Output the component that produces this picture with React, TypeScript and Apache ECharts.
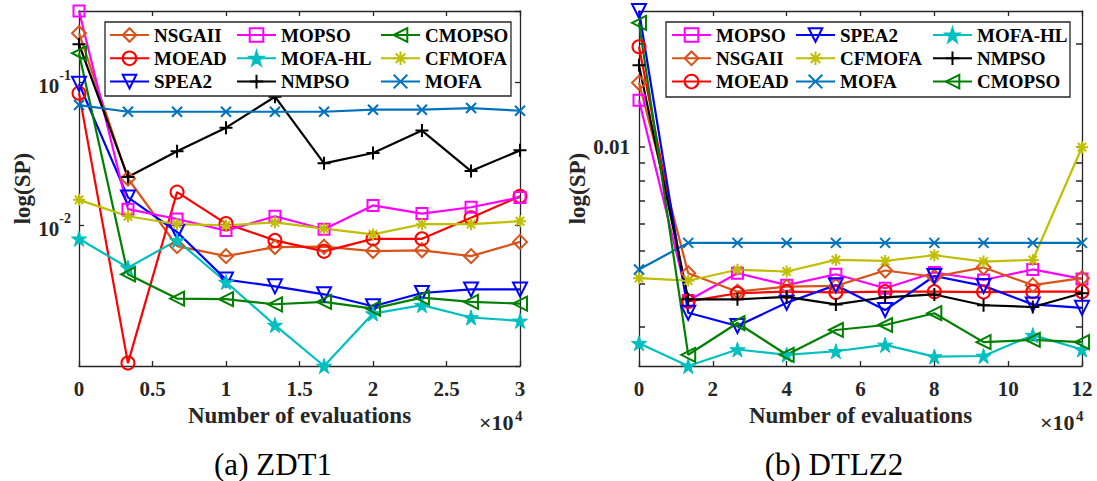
import React, { useEffect, useRef } from 'react';
import * as echarts from 'echarts';

// ---------- data ----------
const ZDT1_EVALS = [0, 0.333, 0.667, 1.0, 1.333, 1.667, 2.0, 2.333, 2.667, 3.0];
const DTLZ2_EVALS = [0, 1.333, 2.667, 4.0, 5.333, 6.667, 8.0, 9.333, 10.667, 12.0];

const ZDT1_NSGAII = [0.221, 0.0213, 0.00717, 0.0061, 0.00706, 0.0071, 0.00662, 0.0067, 0.0061, 0.00767];
const ZDT1_MOEAD = [0.0842, 0.00109, 0.0171, 0.0103, 0.00786, 0.00659, 0.00806, 0.00806, 0.0113, 0.016];
const ZDT1_SPEA2 = [0.098, 0.0157, 0.009, 0.00418, 0.00375, 0.0033, 0.00272, 0.00337, 0.00357, 0.00357];
const ZDT1_MOPSO = [0.316, 0.013, 0.0111, 0.0092, 0.0116, 0.0094, 0.0138, 0.0121, 0.0134, 0.0157];
const ZDT1_MOFAHL = [0.00807, 0.00507, 0.00786, 0.00402, 0.00201, 0.00104, 0.00242, 0.00277, 0.00227, 0.00215];
const ZDT1_NMPSO = [0.185, 0.0218, 0.033, 0.0483, 0.0795, 0.0272, 0.0321, 0.0461, 0.024, 0.0335];
const ZDT1_CMOPSO = [0.16, 0.00455, 0.00308, 0.00305, 0.00281, 0.00292, 0.00262, 0.00313, 0.00292, 0.00284];
const ZDT1_CFMOFA = [0.0151, 0.0116, 0.0102, 0.01, 0.0105, 0.0095, 0.00866, 0.0102, 0.0102, 0.0107];
const ZDT1_MOFA = [0.0695, 0.0624, 0.0624, 0.0624, 0.0624, 0.0624, 0.0645, 0.0645, 0.0662, 0.0634];

const DTLZ2_MOPSO = [0.0137, 0.00358, 0.0043, 0.00397, 0.00427, 0.00389, 0.00432, 0.00411, 0.00441, 0.00414];
const DTLZ2_NSGAII = [0.0154, 0.0043, 0.0038, 0.00393, 0.00395, 0.00438, 0.0042, 0.00447, 0.00397, 0.00416];
const DTLZ2_MOEAD = [0.0196, 0.00356, 0.00376, 0.0038, 0.00378, 0.0038, 0.0038, 0.00379, 0.0038, 0.0038];
const DTLZ2_SPEA2 = [0.0249, 0.0033, 0.00302, 0.00353, 0.00397, 0.00336, 0.00422, 0.00395, 0.00349, 0.00341];
const DTLZ2_CFMOFA = [0.00416, 0.00409, 0.0044, 0.00435, 0.0047, 0.00467, 0.00485, 0.00465, 0.0047, 0.01];
const DTLZ2_MOFA = [0.00441, 0.00527, 0.00527, 0.00527, 0.00527, 0.00527, 0.00527, 0.00527, 0.00527, 0.00527];
const DTLZ2_MOFAHL = [0.00269, 0.00231, 0.00258, 0.00249, 0.00255, 0.00266, 0.00246, 0.00247, 0.00284, 0.00258];
const DTLZ2_NMPSO = [0.0173, 0.00361, 0.00361, 0.00367, 0.00349, 0.00366, 0.00373, 0.00347, 0.00343, 0.00376];
const DTLZ2_CMOPSO = [0.023, 0.00249, 0.00308, 0.00249, 0.00294, 0.00304, 0.00329, 0.00271, 0.00275, 0.00271];

const ZDT1_X_TICKS = [0, 0.5, 1, 1.5, 2, 2.5, 3];
const DTLZ2_X_TICKS = [0, 2, 4, 6, 8, 10, 12];
const DTLZ2_Y_MINOR_TICKS = [0.003, 0.004, 0.005, 0.006, 0.007, 0.008, 0.009, 0.01, 0.02];

const ZDT1_LEGEND_COLS = [['NSGAII', 'MOEAD', 'SPEA2'], ['MOPSO', 'MOFA-HL', 'NMPSO'], ['CMOPSO', 'CFMOFA', 'MOFA']];
const DTLZ2_LEGEND_COLS = [['MOPSO', 'NSGAII', 'MOEAD'], ['SPEA2', 'CFMOFA', 'MOFA'], ['MOFA-HL', 'NMPSO', 'CMOPSO']];

const ZDT1_SERIES: [string, number[]][] = [
  ['NSGAII', ZDT1_NSGAII], ['MOEAD', ZDT1_MOEAD], ['SPEA2', ZDT1_SPEA2],
  ['MOPSO', ZDT1_MOPSO], ['MOFA-HL', ZDT1_MOFAHL], ['NMPSO', ZDT1_NMPSO],
  ['CMOPSO', ZDT1_CMOPSO], ['CFMOFA', ZDT1_CFMOFA], ['MOFA', ZDT1_MOFA],
];
const DTLZ2_SERIES: [string, number[]][] = [
  ['MOPSO', DTLZ2_MOPSO], ['NSGAII', DTLZ2_NSGAII], ['MOEAD', DTLZ2_MOEAD],
  ['SPEA2', DTLZ2_SPEA2], ['CFMOFA', DTLZ2_CFMOFA], ['MOFA', DTLZ2_MOFA],
  ['MOFA-HL', DTLZ2_MOFAHL], ['NMPSO', DTLZ2_NMPSO], ['CMOPSO', DTLZ2_CMOPSO],
];

const CAPTIONS = ['(a) ZDT1', '(b) DTLZ2'];
const X_SCALE_BASE = '×10';
const X_SCALE_EXP = '4';

// ---------- styles ----------
const FONT = 'Liberation Serif';
const AXIS_COLOR = '#262626';
const STAR = 'path://M5,0L6.12,3.45L9.76,3.45L6.82,5.59L7.94,9.05L5,6.91L2.06,9.05L3.18,5.59L0.24,3.45L3.88,3.45Z';
const PLUS = 'path://M5,0L5,10M0,5L10,5';
const CROSS = 'path://M0,0L10,10M10,0L0,10';
const ASTER = 'path://M5,0L5,10M0,5L10,5M1.5,1.5L8.5,8.5M8.5,1.5L1.5,8.5';

const STYLE: Record<string, { color: string; symbol: string; size: number; rotate?: number; fill?: boolean }> = {
  NSGAII: { color: '#D95319', symbol: 'diamond', size: 14 },
  MOPSO: { color: '#FF00FF', symbol: 'rect', size: 11 },
  CMOPSO: { color: '#008000', symbol: 'triangle', size: 14, rotate: 90 },
  MOEAD: { color: '#FF0000', symbol: 'circle', size: 13 },
  'MOFA-HL': { color: '#00BFBF', symbol: STAR, size: 15, fill: true },
  CFMOFA: { color: '#BFBF00', symbol: ASTER, size: 12 },
  SPEA2: { color: '#0000FF', symbol: 'triangle', size: 14, rotate: 180 },
  NMPSO: { color: '#000000', symbol: PLUS, size: 13 },
  MOFA: { color: '#0072BD', symbol: CROSS, size: 10 },
};

function makeSeries(name: string, xs: number[], ys: number[], axisIdx: number) {
  const st = STYLE[name];
  return {
    type: 'line',
    name,
    xAxisIndex: axisIdx,
    yAxisIndex: axisIdx,
    data: xs.map((x, i) => [x, ys[i]]),
    color: st.color,
    symbol: st.symbol,
    symbolSize: st.size,
    symbolRotate: st.rotate || 0,
    showAllSymbol: true,
    clip: false,
    lineStyle: { color: st.color, width: 2.2 },
    itemStyle: { color: st.fill ? st.color : 'rgba(0,0,0,0)', borderColor: st.color, borderWidth: st.fill ? 1 : 2 },
    emphasis: { disabled: true },
    z: 2,
  };
}

function buildOption() {
  const axisLine = { show: true, onZero: false, lineStyle: { color: AXIS_COLOR, width: 1.3 } };
  const tick = { show: true, inside: true, length: 5, lineStyle: { color: AXIS_COLOR, width: 1.3 } };
  const minorTick = { show: true, inside: true, length: 6, lineStyle: { color: AXIS_COLOR, width: 1.5 }, customValues: DTLZ2_Y_MINOR_TICKS };
  const labelStyle = { fontFamily: FONT, fontWeight: 'bold', fontSize: 21, color: AXIS_COLOR };
  const nameStyle = { fontFamily: FONT, fontWeight: 'bold', fontSize: 23, color: AXIS_COLOR };
  const noSplit = { show: false };

  const xAxisPair = (gridIndex: number, ticks: number[]) => {
    const min = ticks[0];
    const max = ticks[ticks.length - 1];
    const interval = ticks[1] - ticks[0];
    return [
      {
        gridIndex, type: 'value', min, max, interval, position: 'bottom',
        axisLine, axisTick: tick, splitLine: noSplit,
        axisLabel: { ...labelStyle, margin: 12 },
        name: 'Number of evaluations', nameLocation: 'middle', nameGap: 36, nameTextStyle: nameStyle,
      },
      {
        gridIndex, type: 'value', min, max, interval, position: 'top',
        axisLine, axisTick: tick, splitLine: noSplit, axisLabel: { show: false },
      },
    ];
  };

  const leftRich = {
    b: { fontFamily: FONT, fontWeight: 'bold', fontSize: 21, color: AXIS_COLOR, lineHeight: 28, verticalAlign: 'bottom' },
    s: { fontFamily: FONT, fontWeight: 'bold', fontSize: 14, color: AXIS_COLOR, lineHeight: 12, verticalAlign: 'top' },
  };

  const yAxes = [
    {
      gridIndex: 0, type: 'log', logBase: 10, min: 0.00104, max: 0.316, position: 'left',
      axisLine, axisTick: tick, splitLine: noSplit,
      axisLabel: {
        margin: 8, showMinLabel: false, showMaxLabel: false,
        formatter: (v: number) => '{b|10}{s|' + Math.round(Math.log10(v)) + '}',
        rich: leftRich,
      },
      name: 'log(SP)', nameLocation: 'middle', nameGap: 45, nameTextStyle: nameStyle,
    },
    {
      gridIndex: 0, type: 'log', logBase: 10, min: 0.00104, max: 0.316, position: 'right',
      axisLine, axisTick: tick, splitLine: noSplit, axisLabel: { show: false },
    },
    {
      gridIndex: 1, type: 'log', logBase: 10, min: 0.00231, max: 0.0249, position: 'left',
      axisLine, axisTick: minorTick, splitLine: noSplit,
      axisLabel: {
        ...labelStyle, margin: 9, showMinLabel: false, showMaxLabel: false,
        formatter: (v: number) => (Math.abs(Math.log10(v) + 2) < 1e-6 ? '0.01' : ''),
      },
      name: 'log(SP)', nameLocation: 'middle', nameGap: 46, nameTextStyle: nameStyle,
    },
    {
      gridIndex: 1, type: 'log', logBase: 10, min: 0.00231, max: 0.0249, position: 'right',
      axisLine, axisTick: minorTick, splitLine: noSplit, axisLabel: { show: false },
    },
  ];

  const legendCol = (names: string[], left: number) => ({
    data: names,
    left, top: 25, orient: 'vertical', padding: 0, itemGap: 3.3,
    itemWidth: 39, itemHeight: 17,
    selectedMode: false, z: 6,
    textStyle: { fontFamily: FONT, fontWeight: 'bold', fontSize: 19, color: '#000', lineHeight: 20 },
  });

  const series = [
    ...ZDT1_SERIES.map(([n, ys]) => makeSeries(n, ZDT1_EVALS, ys, 0)),
    ...DTLZ2_SERIES.map(([n, ys]) => makeSeries(n, DTLZ2_EVALS, ys, 2)),
  ];

  const plainTitle = (text: string, left: number, top: number, size: number, weight: string, align = 'left') => ({
    text, left, top, padding: 0, textAlign: align,
    textStyle: { fontFamily: FONT, fontWeight: weight, fontSize: size, color: weight === 'bold' ? AXIS_COLOR : '#000', lineHeight: size },
  });

  return {
    animation: false,
    backgroundColor: '#ffffff',
    title: [
      plainTitle(X_SCALE_BASE, 479, 411, 22, 'bold'),
      plainTitle(X_SCALE_EXP, 515, 408, 15, 'bold'),
      plainTitle(X_SCALE_BASE, 1040, 411, 22, 'bold'),
      plainTitle(X_SCALE_EXP, 1076, 408, 15, 'bold'),
      plainTitle(CAPTIONS[0], 273, 449, 31, 'normal', 'center'),
      plainTitle(CAPTIONS[1], 834, 449, 31, 'normal', 'center'),
    ],
    grid: [
      { left: 79, top: 11, width: 441, height: 355 },
      { left: 639, top: 11, width: 443, height: 355 },
    ],
    xAxis: [...xAxisPair(0, ZDT1_X_TICKS), ...xAxisPair(1, DTLZ2_X_TICKS)],
    yAxis: yAxes,
    legend: [
      legendCol(ZDT1_LEGEND_COLS[0], 109),
      legendCol(ZDT1_LEGEND_COLS[1], 236),
      legendCol(ZDT1_LEGEND_COLS[2], 380),
      legendCol(DTLZ2_LEGEND_COLS[0], 671),
      legendCol(DTLZ2_LEGEND_COLS[1], 795),
      legendCol(DTLZ2_LEGEND_COLS[2], 932),
    ],
    graphic: [
      { type: 'rect', z: 4, shape: { x: 105, y: 22, width: 406, height: 74 }, style: { fill: '#fff', stroke: AXIS_COLOR, lineWidth: 1.3 } },
      { type: 'rect', z: 4, shape: { x: 666, y: 22, width: 404, height: 75 }, style: { fill: '#fff', stroke: AXIS_COLOR, lineWidth: 1.3 } },
    ],
    series,
  };
}

export default function App() {
  const ref = useRef<HTMLDivElement>(null);
  useEffect(() => {
    if (!ref.current) return;
    const chart = echarts.init(ref.current, undefined, { renderer: 'svg' });
    chart.setOption(buildOption() as any);
    return () => chart.dispose();
  }, []);
  return (
    <div
      ref={ref}
      style={{ position: 'absolute', left: 0, top: 0, width: 1097, height: 481, background: '#fff' }}
    />
  );
}
